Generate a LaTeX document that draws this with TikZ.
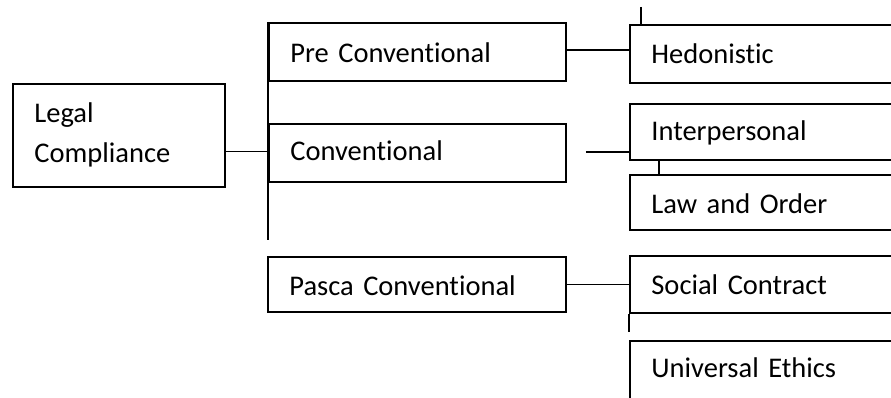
\documentclass[tikz,border=0pt]{standalone}
\usepackage{fontspec}
\setmainfont{Carlito}[Ligatures=CommonOff, RawFeature={-liga;-clig}]
\begin{document}
\begin{tikzpicture}[x=1pt,y=-1pt,
  box/.style={draw, line width=1.8pt, rectangle, anchor=north west,
    inner xsep=21.5pt, inner ysep=0pt, align=left,
    font=\fontsize{28.5}{40}\selectfont},
  single/.style={box, text depth=0pt},
  conn/.style={line width=1.8pt}]
\useasboundingbox (0,0) rectangle (891,398);
\clip (0,0) rectangle (891,398);

% root
\node[box, text width=169pt, minimum height=103pt] (legal) at (12,83) {Legal\\Compliance};

% level 2
\node[single, text width=254pt, minimum height=58pt, text height=21.4pt] (pre) at (268,22) {Pre Conventional};
\node[single, text width=254pt, minimum height=58pt, text height=16pt] (conv) at (268,123) {Conventional};
\node[single, text width=255pt, minimum height=55pt, text height=23pt] (pasca) at (267,256) {Pasca Conventional};

% level 3
\node[single, text width=257pt, minimum height=58pt, text height=20pt] (hed) at (629,24) {Hedonistic};
\node[single, text width=257pt, minimum height=56pt, text height=18pt] (inter) at (629,103) {Interpersonal};
\node[single, text width=257pt, minimum height=55pt, text height=23pt] (law) at (629,174) {Law and Order};
\node[single, text width=257pt, minimum height=57pt, text height=21pt] (sc) at (629,255) {Social Contract};
\node[single, text width=257pt, minimum height=62pt, text height=12pt] (ue) at (629,340) {Universal Ethics};

% free ends
\coordinate (trunkend) at (268,240);
\coordinate (hedtop) at (641,7);
\coordinate (scend) at (629,332);

% connectors
\draw[conn] (pre.north west) -- (trunkend);
\draw[conn] ([yshift=-16.2pt]legal.east) -- ([yshift=-16.2pt]legal.east -| pre.west);
\draw[conn] ([yshift=1.5pt]pre.east) -- ([yshift=1.5pt]pre.east -| hed.west);
\draw[conn] ([xshift=19pt,yshift=1pt]conv.east) -- ([yshift=1pt]conv.east -| inter.west);
\draw[conn] (pasca.east) -- (pasca.east -| sc.west);
\draw[conn] (hedtop) -- (hedtop |- hed.north);
\draw[conn] ([xshift=30pt]inter.south west) -- ([xshift=30pt]law.north west);
\draw[conn] (sc.south west) -- (scend);
\end{tikzpicture}
\end{document}
